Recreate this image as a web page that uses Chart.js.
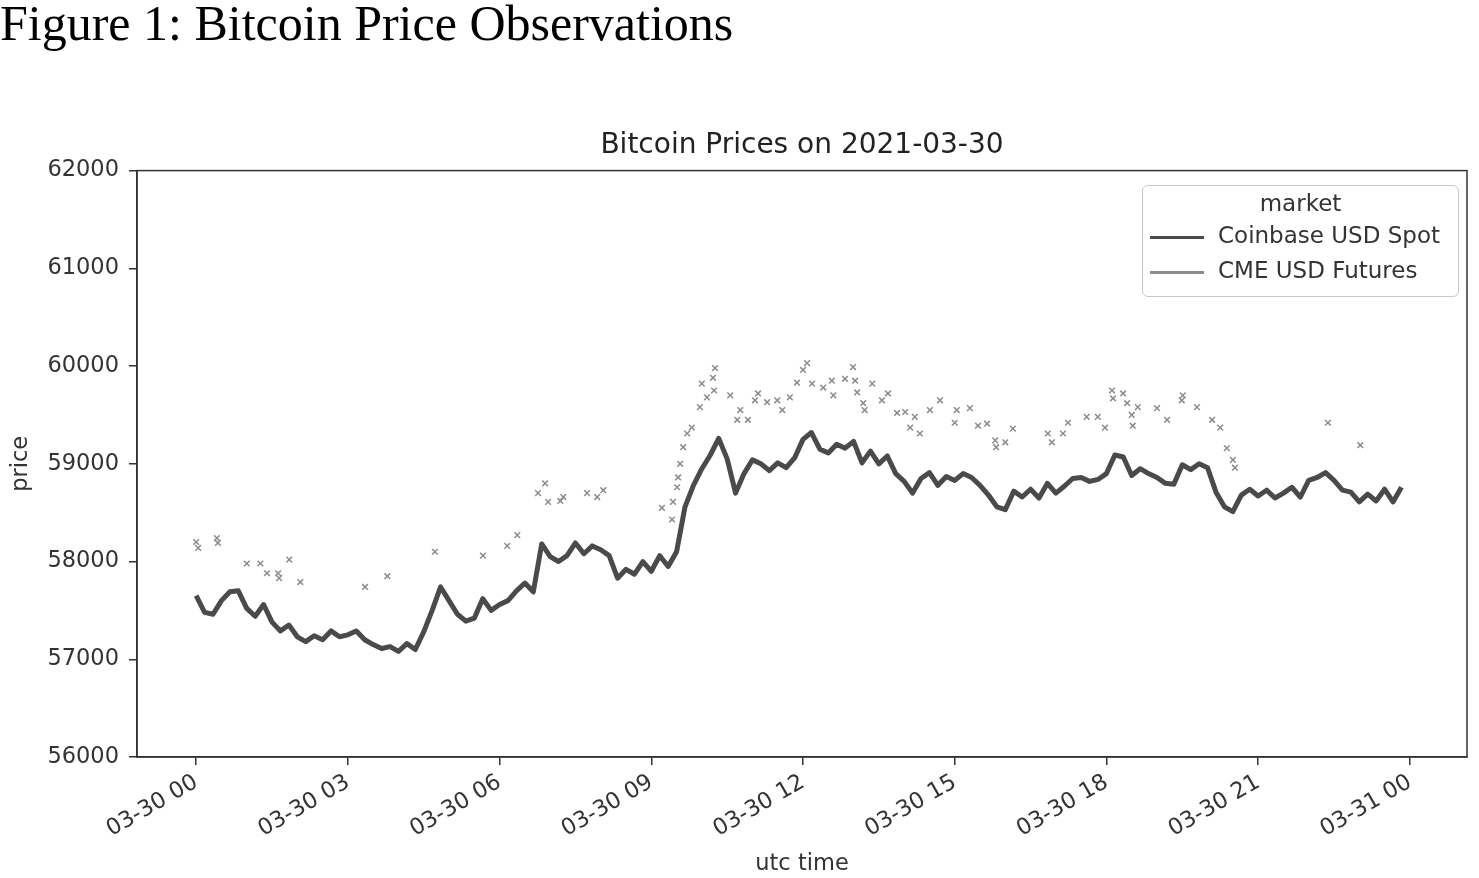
<!DOCTYPE html>
<html>
<head>
<meta charset="utf-8">
<title>Bitcoin Price Observations</title>
<script src="https://cdn.jsdelivr.net/npm/chart.js@4.4.1/dist/chart.umd.min.js"></script>
<style>
  body { margin: 0; background: #fff; width: 1479px; height: 878px; overflow: hidden; position: relative; }
  #fig { position: absolute; left: 0; top: -6px; font-family: "Liberation Serif", "DejaVu Serif", serif; font-size: 50px; color: #000; white-space: nowrap; }
  #wrap { position: absolute; left: 0; top: 0; width: 1479px; height: 878px; }
  #legend { position: absolute; left: 1142px; top: 185px; width: 317px; height: 112px; border: 1px solid #c8c8c8; border-radius: 6px;
            font-family: "DejaVu Sans", sans-serif; font-size: 23px; color: #333; box-sizing: border-box; background: rgba(255,255,255,0.8); }
  #legend .ttl { text-align: center; margin-top: 4px; height: 31px; }
  #legend .row { position: relative; height: 35px; }
  #legend .row span.ln { position: absolute; left: 7px; top: 15px; width: 54px; height: 3px; }
  #legend .row span.tx { position: absolute; left: 75px; top: 1px; white-space: nowrap; }
</style>
</head>
<body>
<div id="fig">Figure 1: Bitcoin Price Observations</div>
<div id="wrap"><canvas id="myChart" width="1479" height="878"></canvas></div>
<div id="legend"></div>
<script>

// x ticks (hours after 2021-03-30 00:00 utc) and their labels
var tickHours = [0, 3, 6, 9, 12, 15, 18, 21, 24];
var tickLabels = ['03-30 00', '03-30 03', '03-30 06', '03-30 09', '03-30 12', '03-30 15', '03-30 18', '03-30 21', '03-31 00'];

var seriesNames = ['Coinbase USD Spot', 'CME USD Futures'];
var seriesColors = ['#4a4a4a', '#8c8c8c'];

// Coinbase spot, one value every 10 minutes from 00:00
var spotStepMinutes = 10;
var spotPrice = [
  57650, 57480, 57460, 57600, 57690, 57700,
  57520, 57440, 57560, 57380, 57290, 57350,
  57230, 57180, 57240, 57200, 57290, 57230,
  57250, 57290, 57200, 57150, 57110, 57130,
  57080, 57160, 57100, 57280, 57500, 57740,
  57600, 57460, 57390, 57420, 57620, 57500,
  57560, 57600, 57700, 57780, 57690, 58180,
  58050, 58000, 58060, 58190, 58080, 58160,
  58120, 58060, 57830, 57920, 57870, 58000,
  57900, 58060, 57950, 58100, 58560, 58780,
  58950, 59090, 59260, 59050, 58700, 58900,
  59040, 59000, 58930, 59010, 58960, 59060,
  59250, 59320, 59150, 59110, 59200, 59160,
  59230, 59010, 59130, 59000, 59080, 58900,
  58820, 58700, 58850, 58910, 58780, 58870,
  58830, 58900, 58860, 58780, 58680, 58560,
  58530, 58720, 58660, 58740, 58650, 58800,
  58700, 58770, 58850, 58860, 58820, 58840,
  58900, 59090, 59070, 58880, 58950, 58900,
  58860, 58800, 58790, 58990, 58940, 59000,
  58960, 58710, 58560, 58510, 58680, 58740,
  58670, 58730, 58650, 58700, 58760, 58660,
  58830, 58860, 58910, 58830, 58730, 58710,
  58610, 58690, 58620, 58740, 58610, 58760
];

// CME futures trades are sparse, so they are kept as (hour, price) pairs
var cmeHours = [
  0.0, 0.04, 0.41, 0.43, 1.0, 1.27, 1.4, 1.62, 1.64, 1.84, 2.06, 3.34, 3.78, 4.72, 5.67, 6.15, 6.35,
  6.76, 6.9, 6.96, 7.2, 7.26, 7.73, 7.93, 8.05, 9.21, 9.41, 9.43, 9.51, 9.53, 9.57, 9.63, 9.71, 9.8,
  9.96, 10.0, 10.1, 10.22, 10.26, 10.24, 10.56, 10.7, 10.76, 10.91, 11.05, 11.11, 11.29, 11.49, 11.59,
  11.74, 11.88, 12.0, 12.08, 12.18, 12.4, 12.57, 12.6, 12.83, 12.99, 13.03, 13.07, 13.19, 13.22, 13.37,
  13.56, 13.68, 13.86, 14.02, 14.12, 14.21, 14.31, 14.51, 14.71, 15.0, 15.04, 15.3, 15.46, 15.64, 15.8,
  15.82, 16.0, 16.15, 16.84, 16.92, 17.14, 17.24, 17.61, 17.83, 17.97, 18.11, 18.13, 18.33, 18.41, 18.5,
  18.52, 18.62, 19.0, 19.2, 19.49, 19.51, 19.79, 20.09, 20.25, 20.38, 20.5, 20.54, 22.38, 23.02
];
var cmePrice = [
  58200, 58140, 58240, 58190, 57980, 57980, 57880, 57880, 57830, 58020, 57790, 57740, 57850, 58100, 58060, 58160, 58270,
  58700, 58800, 58610, 58620, 58660, 58700, 58660, 58730, 58550, 58430, 58610, 58760, 58860, 59000, 59170, 59310, 59370,
  59580, 59820, 59680, 59880, 59980, 59750, 59700, 59450, 59550, 59450, 59650, 59720, 59630, 59650, 59550,
  59680, 59830, 59960, 60030, 59820, 59780, 59850, 59700, 59870, 59990, 59850, 59730, 59620, 59550, 59820,
  59650, 59720, 59520, 59530, 59370, 59480, 59310, 59550, 59650, 59420, 59550, 59570, 59390, 59410, 59240,
  59170, 59220, 59360, 59310, 59220, 59310, 59420, 59480, 59480, 59370, 59750, 59670, 59720, 59620, 59500,
  59390, 59580, 59570, 59450, 59650, 59700, 59580, 59450, 59370, 59160, 59040, 58960, 59420, 59190
];

function spotPoints() {
  return spotPrice.map(function (p, i) {
    return { x: i * spotStepMinutes / 60, y: p };
  });
}

function cmePoints() {
  return cmeHours.map(function (h, i) {
    return { x: h, y: cmePrice[i] };
  });
}

// matplotlib-style closed box around the plot area
var frameBox = {
  id: 'frameBox',
  afterDatasetsDraw: function (chart) {
    var a = chart.chartArea;
    var ctx = chart.ctx;
    ctx.save();
    ctx.strokeStyle = '#333';
    ctx.lineWidth = 1.5;
    ctx.strokeRect(a.left, a.top, a.right - a.left, a.bottom - a.top);
    ctx.restore();
  }
};

var tickFont = { family: 'DejaVu Sans', size: 22.5 };

var ctx = document.getElementById('myChart');
var myChart = new Chart(ctx, {
  type: 'scatter',
  data: {
    datasets: [{
      label: seriesNames[0],
      data: spotPoints(),
      showLine: true,
      borderColor: seriesColors[0],
      backgroundColor: seriesColors[0],
      borderWidth: 5,
      borderJoinStyle: 'round',
      pointRadius: 0,
      tension: 0
    }, {
      label: seriesNames[1],
      data: cmePoints(),
      showLine: false,
      pointStyle: 'crossRot',
      pointRadius: 4,
      borderWidth: 1.5,
      borderColor: seriesColors[1],
      backgroundColor: seriesColors[1]
    }]
  },
  options: {
    responsive: false,
    animation: false,
    devicePixelRatio: 1,
    layout: { padding: { left: 0, right: 12, top: 0, bottom: 0 } },
    plugins: {
      legend: { display: false },
      tooltip: { enabled: false },
      title: {
        display: true,
        fullSize: false,
        text: 'Bitcoin Prices on 2021-03-30',
        color: '#222',
        font: { family: 'DejaVu Sans', size: 28, weight: 'normal' },
        padding: { top: 129, bottom: 8 }
      }
    },
    scales: {
      x: {
        type: 'linear',
        min: -1.17,
        max: 25.13,
        afterBuildTicks: function (scale) {
          scale.ticks = tickHours.map(function (h) { return { value: h }; });
        },
        afterFit: function (scale) { scale.height = 121; },
        ticks: {
          color: '#333',
          font: tickFont,
          minRotation: 30,
          maxRotation: 30,
          padding: 4,
          callback: function (value, index) { return tickLabels[index]; }
        },
        grid: { display: true, drawOnChartArea: false, drawTicks: true, tickLength: 8, color: '#333', lineWidth: 1.5 },
        border: { display: true, color: '#333', width: 1.5 },
        title: { display: true, text: 'utc time', color: '#333', font: { family: 'DejaVu Sans', size: 22.5 }, padding: { top: 0, bottom: 0 } }
      },
      y: {
        min: 56000,
        max: 62000,
        afterFit: function (scale) { scale.width = 137; },
        ticks: {
          stepSize: 1000,
          color: '#333',
          font: tickFont,
          padding: 10,
          callback: function (value) { return String(value); }
        },
        grid: { display: true, drawOnChartArea: false, drawTicks: true, tickLength: 8, color: '#333', lineWidth: 1.5 },
        border: { display: true, color: '#333', width: 1.5 },
        title: { display: true, text: 'price', color: '#333', font: { family: 'DejaVu Sans', size: 22.5 }, padding: { top: 8, bottom: 0 } }
      }
    }
  },
  plugins: [frameBox]
});

// legend drawn as html, boxed in the upper right like the original
var legendEl = document.getElementById('legend');
var html = '<div class="ttl">market</div>';
seriesNames.forEach(function (name, i) {
  html += '<div class="row"><span class="ln" style="background:' + seriesColors[i] + '"></span><span class="tx">' + name + '</span></div>';
});
legendEl.innerHTML = html;

</script>
</body>
</html>
